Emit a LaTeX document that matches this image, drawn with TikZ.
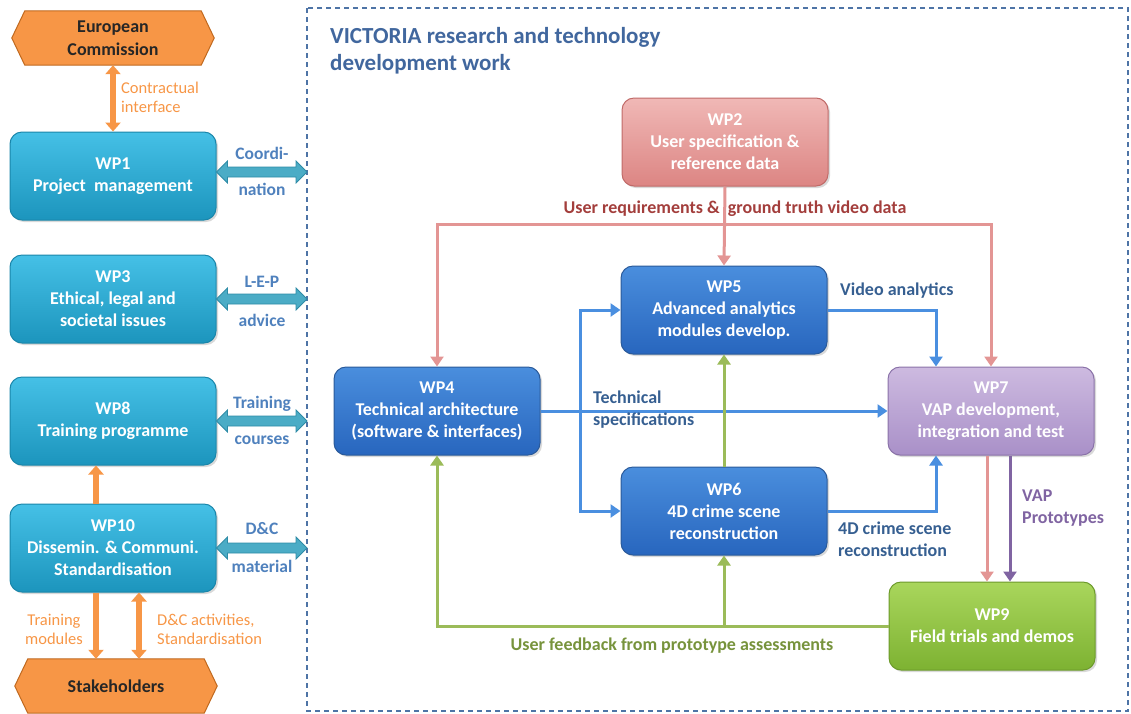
\documentclass[tikz,border=0pt]{standalone}
\usepackage{fontspec}
\setmainfont{Carlito}
\usetikzlibrary{arrows.meta,calc,shadows}
\pgfdeclarelayer{background}
\pgfsetlayers{background,main}
\definecolor{cyanT}{HTML}{45C0E6}
\definecolor{cyanB}{HTML}{1C95BD}
\definecolor{cyanD}{HTML}{1A86AA}
\definecolor{blueT}{HTML}{4A8EDD}
\definecolor{blueB}{HTML}{2866BE}
\definecolor{blueD}{HTML}{2A5A9A}
\definecolor{redT}{HTML}{F0B8B6}
\definecolor{redB}{HTML}{DC8583}
\definecolor{redD}{HTML}{C06A68}
\definecolor{purT}{HTML}{CDBAE0}
\definecolor{purB}{HTML}{A990C8}
\definecolor{purD}{HTML}{8A72A8}
\definecolor{grnT}{HTML}{A9D65C}
\definecolor{grnB}{HTML}{7DB232}
\definecolor{grnD}{HTML}{6C9A2B}
\definecolor{orF}{HTML}{F79646}
\definecolor{orD}{HTML}{C0691F}
\definecolor{fatF}{HTML}{4BACC6}
\definecolor{fatD}{HTML}{2E8BA6}
\definecolor{lblue}{HTML}{4F81BD}
\definecolor{dblue}{HTML}{365F91}
\definecolor{titleblue}{HTML}{41679E}
\definecolor{arrblue}{HTML}{4A8FE0}
\definecolor{arrred}{HTML}{E39594}
\definecolor{arrgrn}{HTML}{9BBB59}
\definecolor{arrpur}{HTML}{8064A2}
\definecolor{lblred}{HTML}{A33E3C}
\definecolor{lblgrn}{HTML}{77933C}
\definecolor{framecol}{HTML}{4E74A6}
\tikzset{
  wpbox/.style={rounded corners=12pt, minimum width=206pt, minimum height=88pt,
    align=center, text=white, font=\bfseries\fontsize{18}{22}\selectfont,
    line width=1pt, inner sep=2pt, drop shadow={shadow xshift=2pt, shadow yshift=-2pt, opacity=0.3}},
  cyanbox/.style={wpbox, top color=cyanT, bottom color=cyanB, draw=cyanD},
  bluebox/.style={wpbox, top color=blueT, bottom color=blueB, draw=blueD},
  redbox/.style={wpbox, top color=redT, bottom color=redB, draw=redD},
  purbox/.style={wpbox, top color=purT, bottom color=purB, draw=purD},
  grnbox/.style={wpbox, top color=grnT, bottom color=grnB, draw=grnD},
  hexbox/.style={minimum width=202pt, minimum height=54pt, align=center,
    font=\bfseries\fontsize{18}{23}\selectfont, text=black!85},
  hexfill/.style={fill=orF, draw=orD, line width=1pt},
  fatarr/.style={fill=fatF, draw=fatD, line width=0.8pt},
  orarr/.style={draw=orF, line width=6pt, -{Triangle[length=9pt,width=15pt]}},
  ordarr/.style={draw=orF, line width=6pt, {Triangle[length=9pt,width=15pt]}-{Triangle[length=9pt,width=15pt]}},
  conn/.style={line width=3pt, -{Triangle[length=10pt,width=13pt]}},
  bluearr/.style={conn, draw=arrblue},
  redarr/.style={conn, draw=arrred},
  grnarr/.style={conn, draw=arrgrn},
  purarr/.style={conn, draw=arrpur},
  lbl/.style={inner sep=0pt, font=\bfseries\fontsize{18}{22}\selectfont},
  orlbl/.style={inner sep=0pt, text=orF, font=\fontsize{16.5}{19}\selectfont},
  leftlbl/.style={lbl, text=lblue, align=center, font=\bfseries\fontsize{17.5}{22}\selectfont}
}
\newcommand{\fatarrow}[2]{%
  \draw[fatarr] let \p1=(#1), \p2=(#2) in
    (\x1,\y1) -- (\x1+11,\y1+11) -- (\x1+11,\y1+5) -- (\x2-11,\y1+5) -- (\x2-11,\y1+11)
    -- (\x2,\y1) -- (\x2-11,\y1-11) -- (\x2-11,\y1-5) -- (\x1+11,\y1-5) -- (\x1+11,\y1-11) -- cycle;}
\begin{document}
\begin{tikzpicture}[x=1pt,y=-1pt]
\useasboundingbox (0,0) rectangle (1131,713);
% dashed frame
\draw[draw=framecol, line width=1.2pt, dash pattern=on 5pt off 4pt] (307,8) rectangle (1128,711);
\coordinate (frame) at (307,0);

% title
\node[anchor=north west, inner sep=0pt, align=left, text=titleblue,
  font=\bfseries\fontsize{23}{27}\selectfont] (title) at (330,27)
  {VICTORIA research and technology\\development work};

% left column
\node[hexbox] (ec) at (113,38) {European\\Commission};
\node[hexbox] (st) at (116,686) {Stakeholders};
\begin{pgfonlayer}{background}
\draw[hexfill] (ec.west) -- ([xshift=13pt]ec.north west) -- ([xshift=-13pt]ec.north east)
  -- (ec.east) -- ([xshift=-13pt]ec.south east) -- ([xshift=13pt]ec.south west) -- cycle;
\draw[hexfill] (st.west) -- ([xshift=13pt]st.north west) -- ([xshift=-13pt]st.north east)
  -- (st.east) -- ([xshift=-13pt]st.south east) -- ([xshift=13pt]st.south west) -- cycle;
\end{pgfonlayer}

\node[cyanbox] (wp1) at (113,176) {WP1\\Project\ \ management};
\node[cyanbox] (wp3) at (113,299) {WP3\\Ethical, legal and\\societal issues};
\node[cyanbox] (wp8) at (113,421) {WP8\\Training programme};
\node[cyanbox] (wp10) at (113,548) {WP10\\Dissemin. \& Communi.\\Standardisation};

\draw[ordarr] (ec.south) -- (wp1.north);
\node[orlbl, anchor=west, align=left] (lct) at (121,97) {Contractual\\interface};
\draw[orarr] ([xshift=-17pt]wp10.north) -- ([xshift=-17pt]wp8.south);
\draw[orarr] ([xshift=-17pt]wp10.south) -- ([xshift=-20pt]st.north);
\draw[ordarr] ([xshift=26pt]wp10.south) -- ([xshift=23pt]st.north);
\node[orlbl, align=center] (ltm) at (54,629) {Training\\modules};
\node[orlbl, anchor=west, align=left] (ldc) at (157,629) {D\&C activities,\\Standardisation};

\fatarrow{[yshift=4pt]wp1.east}{[yshift=4pt]wp1.east -| frame}
\fatarrow{wp3.east}{wp3.east -| frame}
\fatarrow{wp8.east}{wp8.east -| frame}
\fatarrow{wp10.east}{wp10.east -| frame}
\node[leftlbl] (l1a) at (262,153) {Coordi-};
\node[leftlbl] (l1b) at (262,189) {nation};
\node[leftlbl] (l3a) at (262,282) {L-E-P};
\node[leftlbl] (l3b) at (262,320) {advice};
\node[leftlbl] (l8a) at (262,404) {Training};
\node[leftlbl] (l8b) at (262,440) {courses};
\node[leftlbl] (l10a) at (262,529) {D\&C};
\node[leftlbl] (l10b) at (262,566) {material};

% right panel
\node[redbox] (wp2) at (725,142) {WP2\\User specification \&\\reference data};
\node[bluebox] (wp5) at (724,310) {WP5\\Advanced analytics\\modules develop.};
\node[bluebox] (wp4) at (437,411) {WP4\\Technical architecture\\(software \& interfaces)};
\node[bluebox] (wp6) at (724,511) {WP6\\4D crime scene\\reconstruction};
\node[purbox] (wp7) at (991,411) {WP7\\VAP development,\\integration and test};
\node[grnbox] (wp9) at (992,626) {WP9\\Field trials and demos};

\coordinate (bus) at (725,224);
\draw[redarr] (bus) -| (wp4.north);
\draw[redarr] (bus) -| (wp7.north);
\draw[redarr] (wp2.south) -- (wp5.north);
\node[lbl, text=lblred] (lur) at (735,209) {User requirements \&\ \ ground truth video data};

\draw[bluearr] (wp5.east) -| ([xshift=-55pt]wp7.north);
\node[lbl, text=dblue, anchor=west] (lva) at (840,291) {Video analytics};
\draw[bluearr] (wp4.east) -- (wp7.west);
\node[lbl, text=dblue, anchor=west, align=left] (lts) at (593,410) {Technical\\specifications};
\coordinate (br) at (580,411);
\draw[bluearr] (br) |- (wp5.west);
\draw[bluearr] (br) |- (wp6.west);
\draw[bluearr] (wp6.east) -| ([xshift=-55pt]wp7.south);
\node[lbl, text=dblue, anchor=west, align=left] (l4d) at (838,539) {4D crime scene\\reconstruction};

\draw[grnarr] (wp6.north) -- (wp5.south);
\draw[grnarr] (wp9.west) -| (wp4.south);
\draw[grnarr] (wp9.west -| wp6.south) -- (wp6.south);
\node[lbl, text=lblgrn] (luf) at (672,646) {User feedback from prototype assessments};

\draw[redarr] ([xshift=-4pt]wp7.south) -- ([xshift=-5pt]wp9.north);
\draw[purarr] ([xshift=19pt]wp7.south) -- ([xshift=18pt]wp9.north);
\node[lbl, text=arrpur, anchor=west, align=left] (lvap) at (1022,508) {VAP\\Prototypes};
\end{tikzpicture}
\end{document}
